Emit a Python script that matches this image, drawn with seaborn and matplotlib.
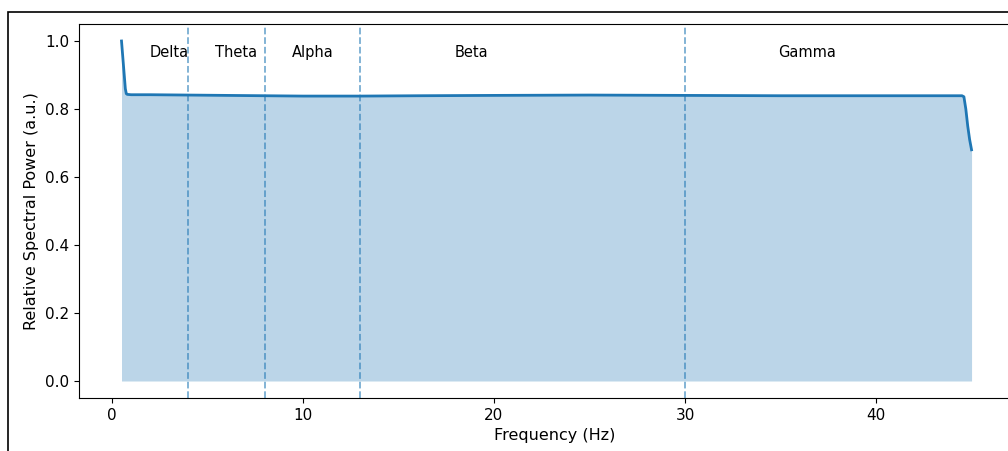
import numpy as np
import pandas as pd
import matplotlib
matplotlib.use("Agg")
import matplotlib.pyplot as plt
import seaborn as sns
from matplotlib.patches import Rectangle

# Relative spectral power curve
freqs = [0.5, 0.6, 0.7, 0.75, 0.8, 1.0, 2.0, 4.0, 6.0, 8.0, 10.0, 13.0, 16.0,
         20.0, 25.0, 30.0, 35.0, 40.0, 44.0, 44.5, 44.6, 44.7, 44.8, 44.9, 45.0]
power = [1.0, 0.93, 0.86, 0.845, 0.843, 0.842, 0.842, 0.841, 0.840, 0.839, 0.838,
         0.838, 0.839, 0.840, 0.841, 0.840, 0.839, 0.839, 0.839, 0.839, 0.836,
         0.80, 0.75, 0.71, 0.68]

# EEG bands
band_edges = [4, 8, 13, 30]
band_names = ["Delta", "Theta", "Alpha", "Beta", "Gamma"]
band_label_x = [3.0, 6.5, 10.5, 18.8, 36.4]

df = pd.DataFrame({"Frequency (Hz)": freqs, "power": power})

fig = plt.figure(figsize=(10.08, 4.51), dpi=100)
# axes runs past the right edge of the (cropped) screenshot
ax = fig.add_axes([79 / 1008, 53 / 451, (1030 - 79) / 1008, (398 - 24) / 451])

sns.lineplot(data=df, x="Frequency (Hz)", y="power", color="#1f77b4",
             linewidth=2, ax=ax)
ax.fill_between(df["Frequency (Hz)"], df["power"], color="#1f77b4", alpha=0.3,
                linewidth=0)

for edge in band_edges:
    ax.axvline(edge, color="#1f77b4", linestyle="--", alpha=0.6, linewidth=1.3)

for name, xpos in zip(band_names, band_label_x):
    ax.text(xpos, 0.965, name, ha="center", va="center", fontsize=10.5)

ax.set_xlabel("Frequency (Hz)", fontsize=11.5)
ax.set_ylabel("Relative Spectral Power (a.u.)", fontsize=11.5)
ax.tick_params(labelsize=11)
ax.set_xlim(-1.725, 48.06)
ax.set_ylim(-0.05, 1.05)

# outer frame of the screenshot
fig.patches.append(Rectangle((8 / 1008, -0.1), 1.2, 1.1 - 12 / 451,
                             transform=fig.transFigure, fill=False,
                             edgecolor="black", linewidth=1.2, clip_on=False))

fig.savefig("out.png", dpi=100)
